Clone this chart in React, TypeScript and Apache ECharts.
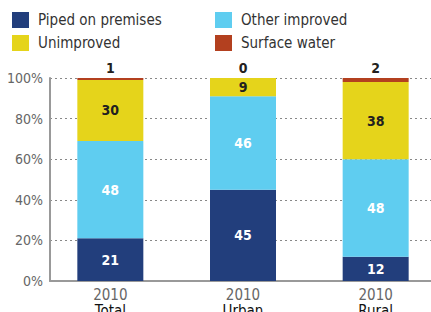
import React, { useEffect, useRef } from "react";
import * as echarts from "echarts";

const categories = ["Total", "Urban", "Rural"];
const years = ["2010", "2010", "2010"];
const piped = [21, 45, 12];
const otherImproved = [48, 46, 48];
const unimproved = [30, 9, 38];
const surfaceWater = [1, 0, 2];
const yTicks = [0, 20, 40, 60, 80, 100];

const FONT = "'Liberation Sans Narrow', 'DejaVu Sans Condensed', 'Roboto Condensed', Roboto, sans-serif";

export default function App() {
  const ref = useRef<HTMLDivElement>(null);
  useEffect(() => {
    if (!ref.current) return;
    const chart = echarts.init(ref.current, null, { renderer: "svg" });
    const top = 78;
    const bottom = 31;
    const labelStyle = (color: string) => ({
      show: true,
      position: "inside",
      color,
      fontFamily: FONT,
      fontWeight: "bold",
      fontSize: 14,
    });
    const legendCommon = {
      top: 12,
      orient: "vertical",
      padding: 0,
      itemWidth: 17,
      itemHeight: 16,
      itemGap: 7,
      icon: "rect",
      selectedMode: false,
      textStyle: { fontFamily: FONT, fontSize: 15, color: "#333", padding: [0, 0, 0, 4] },
    };
    chart.setOption({
      animation: false,
      textStyle: { fontFamily: FONT },
      legend: [
        { ...legendCommon, left: 12, data: ["Piped on premises", "Unimproved"] },
        { ...legendCommon, left: 215, data: ["Other improved", "Surface water"] },
      ],
      grid: [
        { left: 44, width: 398, top, bottom, outerBoundsMode: "none", containLabel: false },
        { left: 50, right: 0, top, bottom, outerBoundsMode: "none", containLabel: false },
      ],
      xAxis: [
        {
          type: "category",
          gridIndex: 0,
          data: categories,
          axisLine: { show: false },
          axisTick: { show: false },
          axisLabel: {
            margin: 6,
            formatter: (v: string, i: number) => `{a|${years[i]}}\n{b|${v}}`,
            rich: {
              a: { fontFamily: FONT, fontSize: 15, color: "#666", lineHeight: 16 },
              b: { fontFamily: FONT, fontSize: 15, color: "#111", lineHeight: 16 },
            },
          },
        },
        {
          type: "value",
          gridIndex: 1,
          min: 0,
          max: 1,
          axisLine: { show: true, onZero: false, lineStyle: { color: "#999", width: 2 } },
          axisTick: { show: false },
          axisLabel: { show: false },
          splitLine: { show: false },
        },
      ],
      yAxis: [
        {
          type: "value",
          gridIndex: 0,
          min: 0,
          max: 100,
          interval: 20,
          axisLine: { show: false },
          axisTick: { show: false },
          splitLine: { show: false },
          axisLabel: {
            margin: 1,
            color: "#666",
            fontSize: 14,
            fontFamily: FONT,
            formatter: (v: number) => (yTicks.includes(v) ? `${v}%` : ""),
          },
        },
        {
          type: "value",
          gridIndex: 1,
          min: 0,
          max: 100,
          interval: 20,
          axisLine: { show: true, lineStyle: { color: "#999", width: 2 } },
          axisTick: { show: false },
          axisLabel: { show: false },
          splitLine: { show: true, lineStyle: { color: "#888", type: [2, 3], width: 1 } },
        },
      ],
      series: [
        {
          name: "Piped on premises",
          type: "bar",
          stack: "s",
          barWidth: 66,
          data: piped,
          itemStyle: { color: "#223e7c" },
          label: labelStyle("#ffffff"),
        },
        {
          name: "Other improved",
          type: "bar",
          stack: "s",
          barWidth: 66,
          data: otherImproved,
          itemStyle: { color: "#5fcdf0" },
          label: labelStyle("#ffffff"),
        },
        {
          name: "Unimproved",
          type: "bar",
          stack: "s",
          barWidth: 66,
          data: unimproved,
          itemStyle: { color: "#e5d41b" },
          label: labelStyle("#231f20"),
        },
        {
          name: "Surface water",
          type: "bar",
          stack: "s",
          barWidth: 66,
          data: surfaceWater,
          itemStyle: { color: "#b3401f" },
          label: { ...labelStyle("#231f20"), position: "top", distance: 3 },
        },
      ],
    });
    return () => chart.dispose();
  }, []);
  return (
    <div
      ref={ref}
      style={{ position: "absolute", left: 0, top: 0, width: 431, height: 312, background: "#fff" }}
    />
  );
}
